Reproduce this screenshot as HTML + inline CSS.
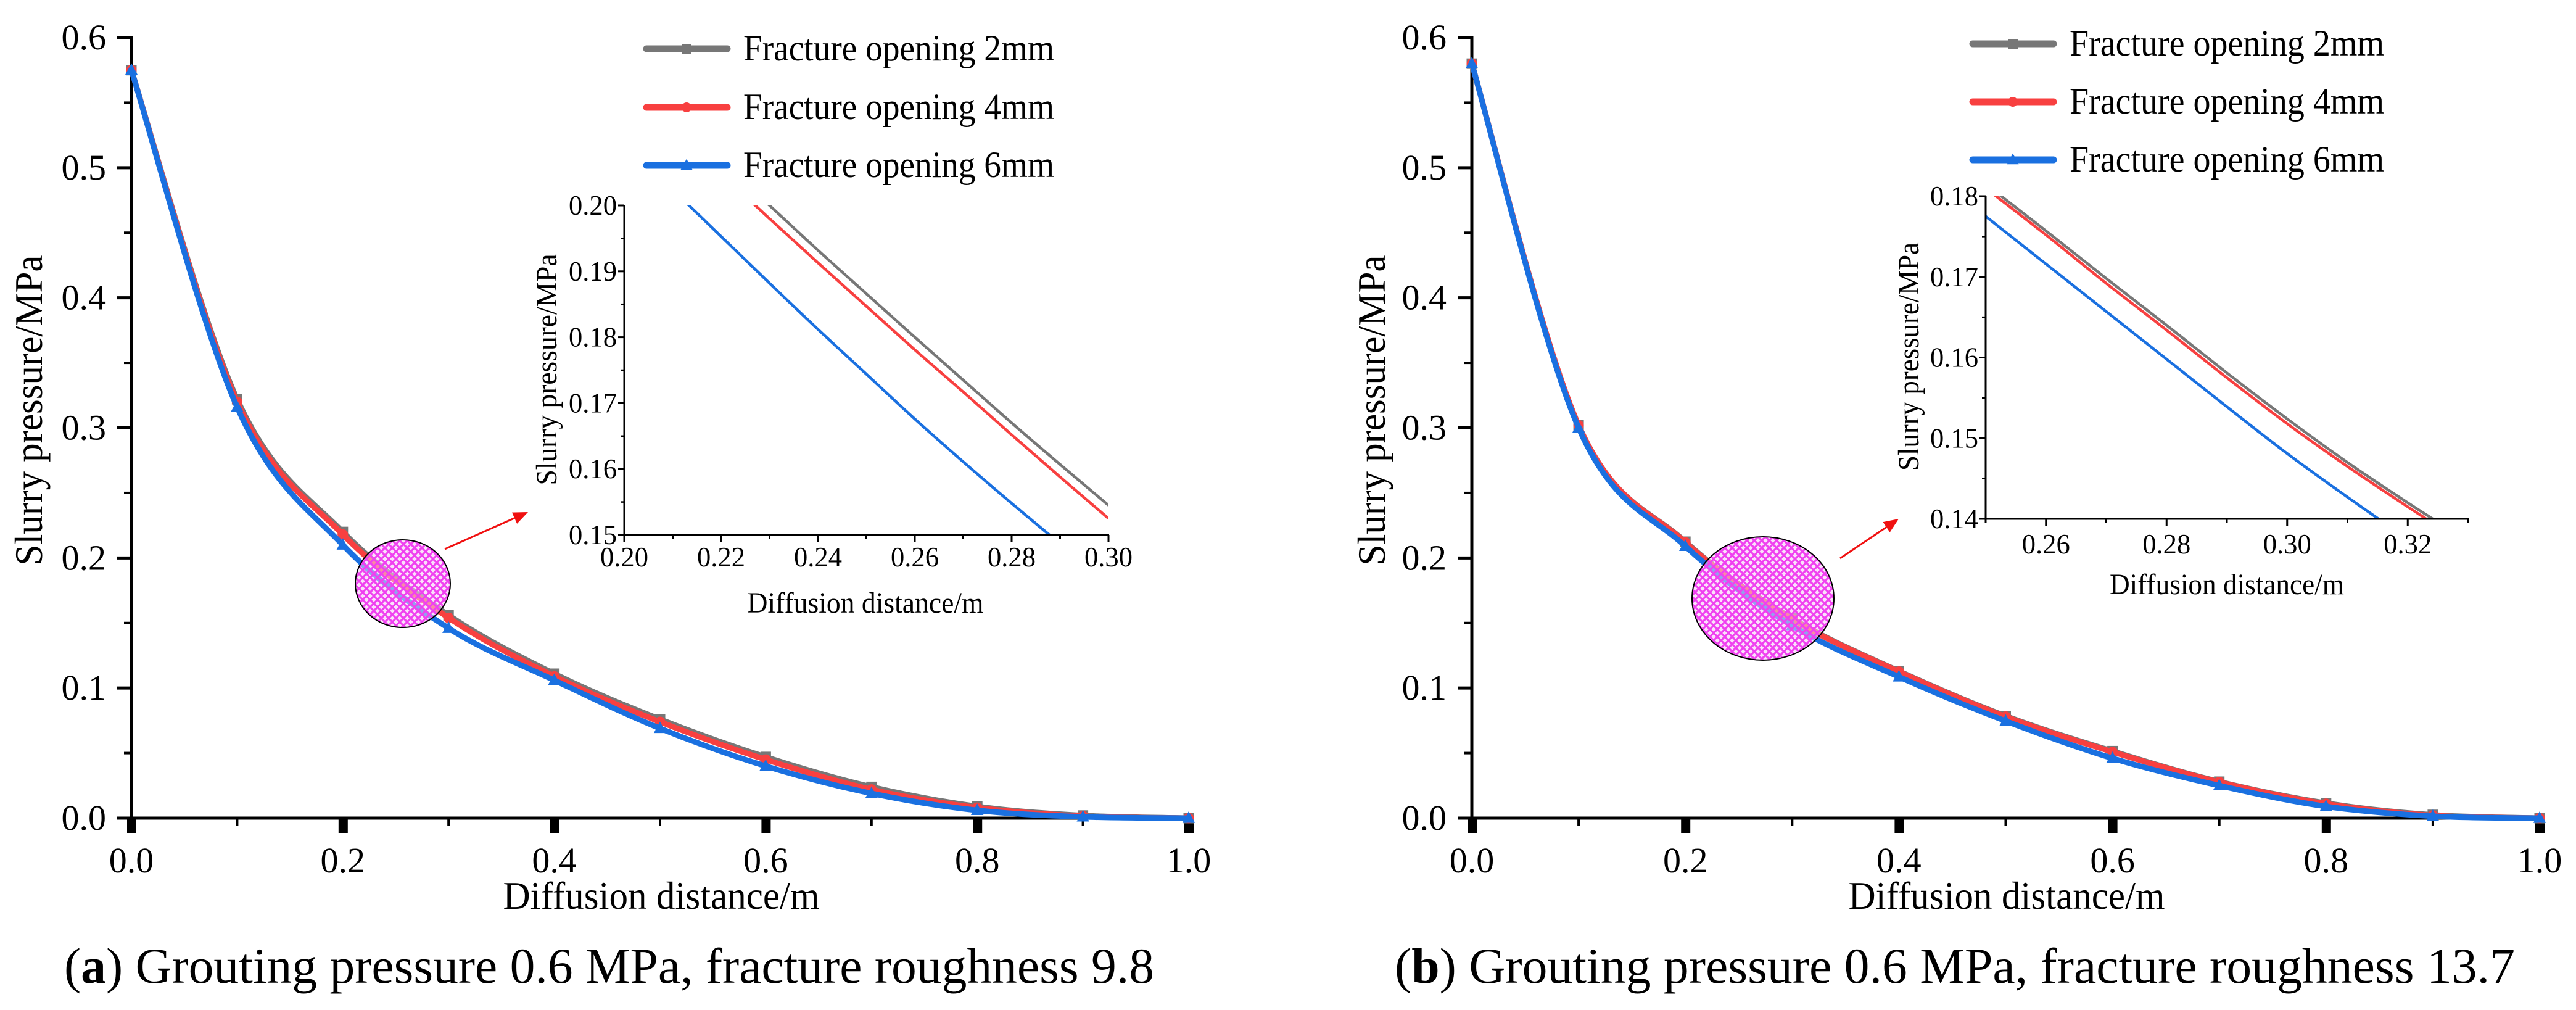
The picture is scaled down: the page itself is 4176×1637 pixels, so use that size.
<!DOCTYPE html>
<html><head><meta charset="utf-8">
<style>
html,body{margin:0;padding:0;background:#fff;}
svg{display:block;}
svg text{font-family:"Liberation Serif","DejaVu Serif","Times New Roman",serif;}
</style></head>
<body>
<svg id="fig" width="4176" height="1637" viewBox="0 0 4176 1637" xmlns="http://www.w3.org/2000/svg" font-family="Liberation Serif, DejaVu Serif, serif">
<defs>
<pattern id="hatch" patternUnits="userSpaceOnUse" width="12" height="12">
<rect width="12" height="12" fill="#f6c8f6" fill-opacity="0.55"/>
<path d="M0,0 L12,12 M12,0 L0,12" stroke="#f040f0" stroke-width="3.2"/>
</pattern>
<clipPath id="clipA"><rect x="1012" y="333" width="785" height="534"/></clipPath>
<clipPath id="clipB"><rect x="3219" y="318" width="782" height="523"/></clipPath>
</defs>
<g id="root"></g>
</svg>
<script>
// ---- data ----
const xMain=[0,0.1,0.2,0.3,0.4,0.5,0.6,0.7,0.8,0.9,1.0];
const a2mm=[0.575,0.322,0.220,0.156,0.111,0.076,0.047,0.024,0.009,0.002,0];
const a4mm=[0.575,0.320,0.218,0.154,0.109,0.074,0.045,0.022,0.008,0.0015,0];
const a6mm=[0.575,0.316,0.210,0.146,0.106,0.069,0.040,0.019,0.006,0.001,0];
const b2mm=[0.580,0.302,0.2125,0.1535,0.113,0.0785,0.0515,0.028,0.0115,0.0025,0];
const b4mm=[0.580,0.302,0.212,0.153,0.1126,0.078,0.0509,0.0277,0.011,0.002,0];
const b6mm=[0.580,0.300,0.209,0.148,0.1086,0.0746,0.046,0.025,0.009,0.0015,0];
const xInsetA=[0.21,0.22,0.23,0.24,0.25,0.26,0.27,0.28,0.29,0.30];
const ia2mm=[0.2136,0.2068,0.2000,0.1932,0.1866,0.1800,0.1735,0.1670,0.1607,0.1545];
const ia4mm=[0.2116,0.2048,0.1980,0.1913,0.1847,0.1781,0.1717,0.1652,0.1588,0.1525];
const ia6mm=[0.2024,0.1953,0.1882,0.1812,0.1744,0.1676,0.1611,0.1548,0.1487,0.1430];
const xInsetB=[0.25,0.26,0.27,0.28,0.29,0.30,0.31,0.32,0.33];
const ib2mm=[0.1815,0.1757,0.1698,0.1640,0.1581,0.1524,0.1470,0.1420,0.1372];
const ib4mm=[0.1810,0.1752,0.1692,0.1634,0.1575,0.1518,0.1465,0.1415,0.1366];
const ib6mm=[0.1775,0.1716,0.1657,0.1598,0.1539,0.1481,0.1427,0.1375,0.1325];
const yTicksMain=["0.0","0.1","0.2","0.3","0.4","0.5","0.6"];
const xTicksMain=["0.0","0.2","0.4","0.6","0.8","1.0"];
const yTicksInsetA=["0.15","0.16","0.17","0.18","0.19","0.20"];
const xTicksInsetA=["0.20","0.22","0.24","0.26","0.28","0.30"];
const yTicksInsetB=["0.14","0.15","0.16","0.17","0.18"];
const xTicksInsetB=["0.26","0.28","0.30","0.32"];
const legendLabels=["Fracture opening 2mm","Fracture opening 4mm","Fracture opening 6mm"];
const captionA=["a",") Grouting pressure 0.6 MPa, fracture roughness 9.8"];
const captionB=["b",") Grouting pressure 0.6 MPa, fracture roughness 13.7"];

const NS="http://www.w3.org/2000/svg";
const root=document.getElementById('root');
const COLORS=["#777777","#f84040","#1a70e0"];
const MARKERS=["square","circle","triangle"];
const FONT='"Liberation Serif","DejaVu Serif",serif';

function mk(tag,attrs,parent){const e=document.createElementNS(NS,tag);for(const k in attrs)e.setAttribute(k,attrs[k]);(parent||root).appendChild(e);return e;}
function txt(s,attrs,parent){const e=mk('text',attrs,parent);e.setAttribute('style','font-family:'+FONT);e.textContent=s;return e;}
function smooth(pts){
  let d="M"+pts[0][0]+","+pts[0][1];
  for(let i=0;i<pts.length-1;i++){
    const p0=pts[Math.max(0,i-1)],p1=pts[i],p2=pts[i+1],p3=pts[Math.min(pts.length-1,i+2)];
    const c1=[p1[0]+(p2[0]-p0[0])/6,p1[1]+(p2[1]-p0[1])/6];
    const c2=[p2[0]-(p3[0]-p1[0])/6,p2[1]-(p3[1]-p1[1])/6];
    d+=" C"+c1[0]+","+c1[1]+" "+c2[0]+","+c2[1]+" "+p2[0]+","+p2[1];
  }
  return d;
}
function marker(type,x,y,s,color,g){
  let m;
  if(type==="square") m=mk('rect',{x:x-s/2,y:y-s/2,width:s,height:s,fill:color},g);
  else if(type==="circle") m=mk('circle',{cx:x,cy:y,r:s/2,fill:color},g);
  else m=mk('polygon',{points:(x)+","+(y-s*0.65)+" "+(x-s*0.6)+","+(y+s*0.45)+" "+(x+s*0.6)+","+(y+s*0.45),fill:color},g);
  return m;
}

function mainPanel(P,series,ticksY,ticksX,id){
  const g=mk('g',{});
  
  
  const sx=v=>P.x0+(v-0)/(1-0)*(P.x1-P.x0);
  const sy=v=>P.y0-(v/0.6)*(P.y0-P.y6);
  const ya=mk('line',{x1:P.x0,y1:P.y6-2,x2:P.x0,y2:P.y0+2,stroke:"#000","stroke-width":5},g);
   
  const xa=mk('line',{x1:P.x0-23,y1:P.y0,x2:P.x1,y2:P.y0,stroke:"#000","stroke-width":5},g);
   
  for(let i=0;i<ticksY.length;i++){
    const v=parseFloat(ticksY[i]);const y=sy(v);
    mk('line',{x1:P.x0-23,y1:y,x2:P.x0,y2:y,stroke:"#000","stroke-width":5},g);
    if(i<ticksY.length-1) mk('line',{x1:P.x0-12,y1:sy(v+0.05),x2:P.x0,y2:sy(v+0.05),stroke:"#000","stroke-width":4},g);
    const t=txt(ticksY[i],{x:P.x0-41,y:y+19,"font-size":58,"text-anchor":"end"},g);
     
  }
  for(let i=0;i<ticksX.length;i++){
    const v=parseFloat(ticksX[i]);const x=sx(v);
    mk('rect',{x:x-7,y:P.y0,width:15,height:24,fill:"#000"},g);
    if(i<ticksX.length-1) mk('rect',{x:sx(v+0.1)-2,y:P.y0,width:4,height:12,fill:"#000"},g);
    const t=txt(ticksX[i],{x:x,y:P.y0+88,"font-size":58,"text-anchor":"middle"},g);
     
  }
  const xt=txt("Diffusion distance/m",{x:P.xlx,y:P.y0+147,"font-size":64,"text-anchor":"middle",textLength:513,lengthAdjust:"spacingAndGlyphs"},g);
   
  const yt=txt("Slurry pressure/MPa",{x:0,y:0,"font-size":64,"text-anchor":"middle",textLength:503,lengthAdjust:"spacingAndGlyphs",transform:"translate("+P.ylx+","+P.yly+") rotate(-90)"},g);
   
  for(let s=0;s<series.length;s++){
    const pts=xMain.map((xv,i)=>[sx(xv),sy(series[s][i])]);
    const p=mk('path',{d:smooth(pts),fill:"none",stroke:COLORS[s],"stroke-width":9,"stroke-linejoin":"round"},g);
     
    for(const q of pts){
      const m=marker(MARKERS[s],q[0],q[1],17,COLORS[s],g);
       
    }
  }
  for(let i=0;i<3;i++){
    const lg=mk('g',{},g);
     
    const y=P.legY[i];
    mk('line',{x1:P.legX,y1:y,x2:P.legX+131,y2:y,stroke:COLORS[i],"stroke-width":11,"stroke-linecap":"round"},lg);
    marker(MARKERS[i],P.legX+65,y,16,COLORS[i],lg);
    txt(legendLabels[i],{x:P.legX+157,y:y+19,"font-size":60,textLength:P.legW,lengthAdjust:"spacingAndGlyphs"},lg);
  }
  return g;
}

function insetPanel(I,xs,series,ticksY,ticksX,clip,id){
  const g=mk('g',{});
  
  
  const sx=v=>I.x0+(v-I.xmin)/(I.xmax-I.xmin)*(I.x1-I.x0);
  const sy=v=>I.y0-(v-I.ymin)/(I.ymax-I.ymin)*(I.y0-I.y1);
  const lc=mk('g',{"clip-path":"url(#"+clip+")"},g);
  for(let s=0;s<series.length;s++){
    const pts=xs.map((xv,i)=>[sx(xv),sy(series[s][i])]);
    const p=mk('path',{d:smooth(pts),fill:"none",stroke:COLORS[s],"stroke-width":4.5},lc);
     
  }
  mk('line',{x1:I.x0,y1:I.y1,x2:I.x0,y2:I.y0+1.5,stroke:"#000","stroke-width":3},g);
  mk('line',{x1:I.x0-10,y1:I.y0,x2:I.x1+1,y2:I.y0,stroke:"#000","stroke-width":3},g);
  const ystep=0.01;
  for(let i=0;i<ticksY.length;i++){
    const v=parseFloat(ticksY[i]);const y=sy(v);
    mk('line',{x1:I.x0-10,y1:y,x2:I.x0,y2:y,stroke:"#000","stroke-width":3},g);
    if(i<ticksY.length-1) mk('line',{x1:I.x0-6,y1:sy(v+ystep/2),x2:I.x0,y2:sy(v+ystep/2),stroke:"#000","stroke-width":2.5},g);
    const t=txt(ticksY[i],{x:I.x0-12,y:y+15,"font-size":46,"text-anchor":"end",textLength:I.tlw,lengthAdjust:"spacingAndGlyphs"},g);
     
  }
  for(let v=I.xmin;v<=I.xmax+1e-9;v+=0.01){
    mk('line',{x1:sx(v),y1:I.y0,x2:sx(v),y2:I.y0+(Math.round(v*100)%2===0?12:7),stroke:"#000","stroke-width":3},g);
  }
  for(let i=0;i<ticksX.length;i++){
    const x=sx(parseFloat(ticksX[i]));
    const t=txt(ticksX[i],{x:x,y:I.y0+I.xtOff,"font-size":46,"text-anchor":"middle",textLength:I.tlw,lengthAdjust:"spacingAndGlyphs"},g);
     
  }
  const xt=txt("Diffusion distance/m",{x:I.xlx,y:I.xly,"font-size":48,"text-anchor":"middle",textLength:I.xlw,lengthAdjust:"spacingAndGlyphs"},g);
   
  const yt=txt("Slurry pressure/MPa",{x:0,y:0,"font-size":48,"text-anchor":"middle",textLength:I.ylw,lengthAdjust:"spacingAndGlyphs",transform:"translate("+I.ylx+","+I.yly+") rotate(-90)"},g);
   
}

function callout(E,A,id){
  const e=mk('ellipse',{cx:E[0],cy:E[1],rx:E[2],ry:E[3],fill:"url(#hatch)",stroke:"#000","stroke-width":2});
   
  const ang=Math.atan2(A[3]-A[1],A[2]-A[0]);
  const hl=24,hw=10;
  const bx=A[2]-hl*Math.cos(ang),by=A[3]-hl*Math.sin(ang);
  const l=mk('line',{x1:A[0],y1:A[1],x2:bx,y2:by,stroke:"#f01010","stroke-width":3});
   
  const h=mk('polygon',{points:A[2]+","+A[3]+" "+(bx+hw*Math.sin(ang))+","+(by-hw*Math.cos(ang))+" "+(bx-hw*Math.sin(ang))+","+(by+hw*Math.cos(ang)),fill:"#f01010"});
   
}

function caption(parts,x,w,id){
  const t=mk('text',{x:x,y:1593,"font-size":82,textLength:w,lengthAdjust:"spacingAndGlyphs"});
  t.setAttribute('style','font-family:'+FONT);
   
  const a=document.createElementNS(NS,'tspan');a.textContent="(";t.appendChild(a);
  const b=document.createElementNS(NS,'tspan');b.setAttribute('font-weight','bold');b.textContent=parts[0];t.appendChild(b);
  const c=document.createElementNS(NS,'tspan');c.textContent=parts[1];t.appendChild(c);
}

mainPanel({x0:213,x1:1927,y0:1326,y6:61,xlx:1072,ylx:68,yly:665,legX:1048,legY:[79,174,268],legW:504},
  [a2mm,a4mm,a6mm],yTicksMain,xTicksMain,"panel-a");
callout([653,946,77,71],[721,890,856,830],"panel-a");
insetPanel({x0:1012,x1:1797,y0:867,y1:333,xmin:0.20,xmax:0.30,ymin:0.15,ymax:0.20,tlw:78,xtOff:51,
  xlx:1403,xly:993,xlw:383,ylx:902,yly:599,ylw:375},xInsetA,[ia2mm,ia4mm,ia6mm],yTicksInsetA,xTicksInsetA,"clipA","panel-a");
caption(captionA,104,1767,"panel-a");

mainPanel({x0:2386,x1:4117,y0:1326,y6:61,xlx:3253,ylx:2245,yly:665,legX:3198,legY:[71,165,259],legW:510},
  [b2mm,b4mm,b6mm],yTicksMain,xTicksMain,"panel-b");
callout([2858,970,115,100],[2983,905,3078,841],"panel-b");
insetPanel({x0:3219,x1:4001,y0:841,y1:318,xmin:0.25,xmax:0.33,ymin:0.14,ymax:0.18,tlw:78,xtOff:56,
  xlx:3610,xly:963,xlw:380,ylx:3110,yly:578,ylw:370},xInsetB,[ib2mm,ib4mm,ib6mm],yTicksInsetB,xTicksInsetB,"clipB","panel-b");
caption(captionB,2261,1816,"panel-b");
</script>
</body></html>
